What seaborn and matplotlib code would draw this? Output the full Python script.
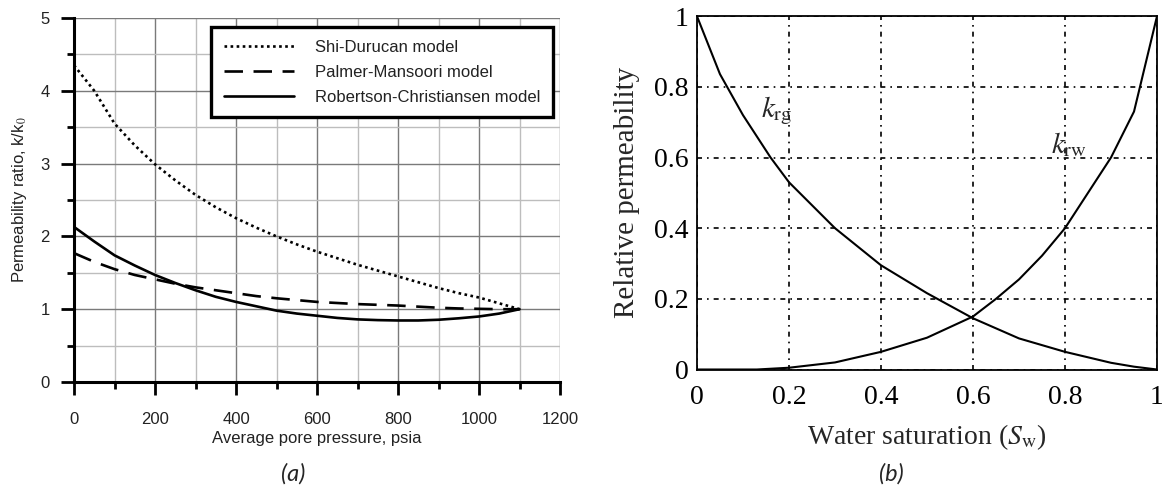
import numpy as np
import pandas as pd
import matplotlib
matplotlib.use("Agg")
import matplotlib.pyplot as plt
from matplotlib.ticker import MultipleLocator
import seaborn as sns

# ---------------- data: panel (a) ----------------
pressure = [0, 50, 100, 150, 200, 250, 300, 350, 400, 450, 500, 550, 600,
            650, 700, 750, 800, 850, 900, 950, 1000, 1050, 1100]
shi_durucan = [4.35, 4.0, 3.55, 3.25, 2.99, 2.77, 2.57, 2.40, 2.25, 2.12, 2.0, 1.89, 1.79,
               1.70, 1.61, 1.53, 1.45, 1.37, 1.29, 1.22, 1.16, 1.08, 1.0]
palmer_mansoori = [1.77, 1.65, 1.55, 1.47, 1.41, 1.35, 1.30, 1.26, 1.22, 1.18, 1.15, 1.125, 1.10,
                   1.085, 1.07, 1.06, 1.05, 1.035, 1.02, 1.01, 1.005, 1.0, 1.0]
robertson_christiansen = [2.13, 1.93, 1.74, 1.60, 1.47, 1.36, 1.26, 1.17, 1.10, 1.04, 0.98, 0.94, 0.91,
                          0.88, 0.86, 0.85, 0.845, 0.845, 0.855, 0.875, 0.90, 0.94, 1.0]
series_names = ["Shi-Durucan model", "Palmer-Mansoori model", "Robertson-Christiansen model"]

# ---------------- data: panel (b) ----------------
sw_rg = [0.0, 0.05, 0.1, 0.16, 0.2, 0.3, 0.4, 0.5, 0.6, 0.7, 0.8, 0.9, 0.95, 1.0]
krg = [1.0, 0.836, 0.72, 0.60, 0.53, 0.40, 0.295, 0.216, 0.145, 0.088, 0.05, 0.019, 0.008, 0.0]
sw_rw = [0.0, 0.13, 0.2, 0.3, 0.4, 0.5, 0.6, 0.65, 0.7, 0.75, 0.8, 0.85, 0.9, 0.95, 0.963, 1.0]
krw = [0.0, 0.0, 0.005, 0.02, 0.05, 0.09, 0.15, 0.2, 0.255, 0.322, 0.40, 0.50, 0.60, 0.73, 0.80, 1.0]

sns.set_theme(style="white")
plt.rcParams["mathtext.fontset"] = "stix"

fig = plt.figure(figsize=(11.62, 4.86), dpi=100)
axa = fig.add_axes([0.0637, 0.214, 0.4183, 0.749])
axb = fig.add_axes([0.5998, 0.2397, 0.3959, 0.727])

# ---------------- panel (a) ----------------
df_a = pd.DataFrame({
    "p": pressure * 3,
    "k": shi_durucan + palmer_mansoori + robertson_christiansen,
    "model": sum([[n] * len(pressure) for n in series_names], []),
})
styles = {
    series_names[0]: (0, (1, 1.3)),
    series_names[1]: (0, (7, 4)),
    series_names[2]: "-",
}
for name in series_names:
    sub = df_a[df_a["model"] == name]
    sns.lineplot(data=sub, x="p", y="k", ax=axa, color="black", lw=1.9,
                 linestyle=styles[name], label=name, estimator=None, sort=False)

sans = ["Liberation Sans", "DejaVu Sans"]
axa.set_xlim(0, 1200)
axa.set_ylim(0, 5)
axa.xaxis.set_major_locator(MultipleLocator(200))
axa.xaxis.set_minor_locator(MultipleLocator(100))
axa.yaxis.set_major_locator(MultipleLocator(1))
axa.yaxis.set_minor_locator(MultipleLocator(0.5))
axa.grid(which="major", color="#7a7a7a", lw=1.0)
axa.grid(which="minor", color="#bdbdbd", lw=1.0)
axa.set_axisbelow(True)
for s in ["top", "right"]:
    axa.spines[s].set_visible(False)
for s in ["left", "bottom"]:
    axa.spines[s].set_color("black")
    axa.spines[s].set_linewidth(2.2)
axa.tick_params(which="major", direction="out", length=9.5, width=2, color="black",
                labelsize=12, labelcolor="#222222", left=True, bottom=True)
axa.tick_params(which="minor", direction="out", length=5, width=2, color="black",
                left=True, bottom=True)
axa.tick_params(axis="x", which="major", pad=12)
axa.tick_params(axis="y", which="major", pad=8)
for lab in axa.get_xticklabels() + axa.get_yticklabels():
    lab.set_family(sans)
axa.set_xlabel("Average pore pressure, psia", fontsize=12, family=sans, color="#222222", labelpad=3)
axa.set_ylabel("Permeability ratio, k/k$_0$", fontsize=12, family=sans, color="#222222", labelpad=8)
leg = axa.legend(loc="upper right", bbox_to_anchor=(0.986, 0.975), borderaxespad=0,
                 frameon=True, fancybox=False, framealpha=1, edgecolor="black",
                 handlelength=4.2, handletextpad=1.3, borderpad=0.75, labelspacing=0.6,
                 prop={"family": sans, "size": 12})
leg.get_frame().set_linewidth(2.4)
for t in leg.get_texts():
    t.set_color("#222222")

# ---------------- panel (b) ----------------
df_rg = pd.DataFrame({"sw": sw_rg, "kr": krg})
df_rw = pd.DataFrame({"sw": sw_rw, "kr": krw})
sns.lineplot(data=df_rg, x="sw", y="kr", ax=axb, color="black", lw=1.5, estimator=None, sort=False)
sns.lineplot(data=df_rw, x="sw", y="kr", ax=axb, color="black", lw=1.5, estimator=None, sort=False)

serif = ["Liberation Serif", "DejaVu Serif"]
axb.set_xlim(0, 1)
axb.set_ylim(0, 1)
ticks = [0, 0.2, 0.4, 0.6, 0.8, 1]
ticklabels = ["0", "0.2", "0.4", "0.6", "0.8", "1"]
axb.set_xticks(ticks)
axb.set_xticklabels(ticklabels)
axb.set_yticks(ticks)
axb.set_yticklabels(ticklabels)
axb.grid(True, color="black", lw=1.2, linestyle=(0, (3, 3, 1, 3)))
for s in axb.spines.values():
    s.set_color("black")
    s.set_linewidth(1.3)
axb.tick_params(labelsize=20, colors="black", length=0, pad=6)
axb.tick_params(axis="x", pad=11)
for lab in axb.get_xticklabels() + axb.get_yticklabels():
    lab.set_family(serif)
axb.set_xlabel(r"Water saturation ($S_{\rm w}$)", fontsize=20, family=serif, labelpad=9)
axb.set_ylabel("Relative permeability", fontsize=21, family=serif, labelpad=10)
axb.text(0.14, 0.713, r"$k_{\rm rg}$", fontsize=21, family=serif, transform=axb.transAxes)
axb.text(0.77, 0.612, r"$k_{\rm rw}$", fontsize=21, family=serif, transform=axb.transAxes)

# captions
cap = ["Lato", "DejaVu Sans"]
fig.text(293 / 1162, 1 - 474 / 486, "(a)", fontsize=17, style="italic", family=cap,
         ha="center", va="center")
fig.text(891 / 1162, 1 - 474 / 486, "(b)", fontsize=17, style="italic", family=cap,
         ha="center", va="center")

fig.savefig("out.png", dpi=100)
